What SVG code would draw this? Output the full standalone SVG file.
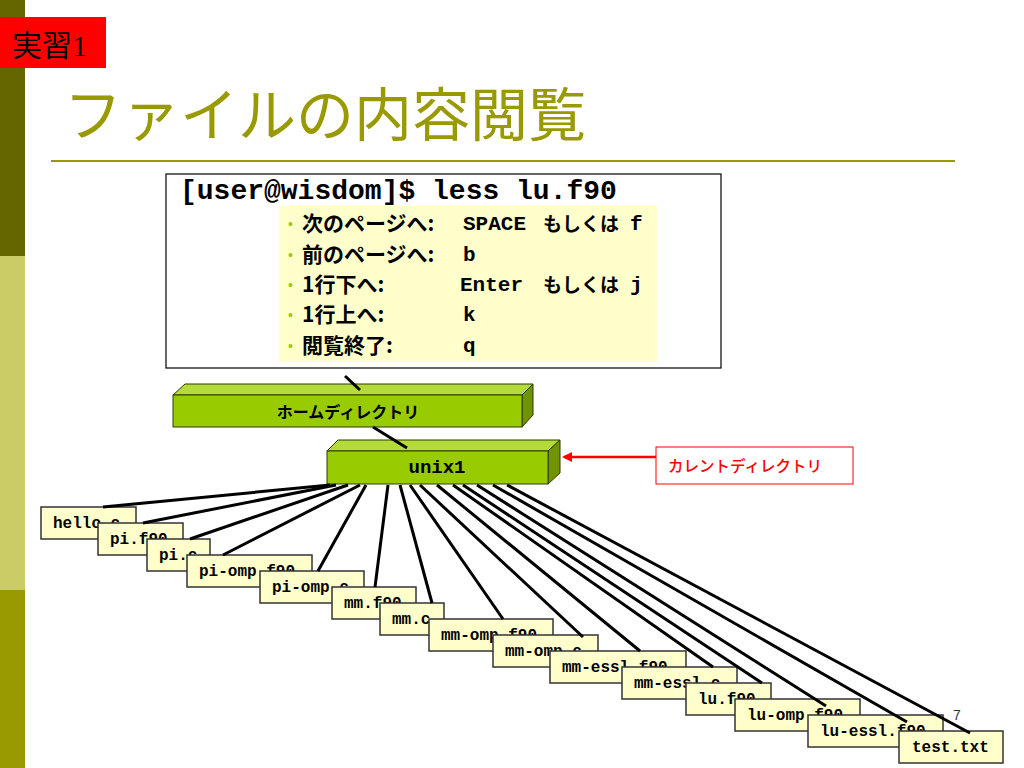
<svg xmlns="http://www.w3.org/2000/svg" width="1024" height="768" viewBox="0 0 1024 768">
<defs>
<style>
.file rect{fill:#FFFFCC;stroke:#333333;stroke-width:1.5}
.file text{font-family:"Liberation Mono","Courier New",monospace;font-weight:bold;font-size:16px;fill:#000}
.conn line{stroke:#000;stroke-width:3;stroke-linecap:butt}
.conn line.red{stroke:#FF0000;stroke-width:2.5}
.jp{font-family:"Noto Sans CJK JP","Noto Sans",sans-serif;font-weight:bold;fill:#000}
.mono{font-family:"Liberation Mono","Courier New",monospace;font-weight:bold;fill:#000}
.bul{font-family:"Liberation Sans",sans-serif;fill:#99CC00;font-size:14px}
.front{fill:#99CC00;stroke:#2F3A00;stroke-width:1}
.top{fill:#B5DB3A;stroke:#2F3A00;stroke-width:1}
.side{fill:#6F9400;stroke:#2F3A00;stroke-width:1}
</style>
<marker id="redArrow" markerWidth="10" markerHeight="10" refX="8" refY="5" orient="auto" markerUnits="userSpaceOnUse">
<path d="M0,0 L10,5 L0,10 Z" fill="#FF0000"/>
</marker>
</defs>
<rect x="0" y="0" width="1024" height="768" fill="#FFFFFF"/>
<g id="sidebar">
<rect x="0" y="0" width="25" height="256" fill="#666600"/>
<rect x="0" y="256" width="25" height="334" fill="#CCCC66"/>
<rect x="0" y="590" width="25" height="178" fill="#999900"/>
</g>
<g id="exercise-tag">
<rect x="0" y="17" width="106" height="51" fill="#FF0000"/>
<text x="12" y="56" font-family="Liberation Serif,'Noto Sans CJK JP',serif" font-size="30" fill="#000">実習1</text>
</g>
<g id="title">
<text x="64" y="136" font-family="'Noto Sans CJK JP',sans-serif" font-size="58" fill="#999900">ファイルの内容閲覧</text>
<line x1="51" y1="161" x2="955" y2="161" stroke="#999900" stroke-width="2"/>
</g>
<g id="command-box">
<rect x="166" y="174" width="555" height="194" fill="#FFFFFF" stroke="#000" stroke-width="1.2"/>
<text x="180" y="199" class="mono" font-size="28">[user@wisdom]$ less lu.f90</text>
<rect x="279" y="206" width="378" height="156" fill="#FFFFCC"/>
<text x="288" y="229" class="bul">•</text>
<text x="302" y="231" class="jp" font-size="21">次のページへ:</text>
<text x="463" y="230" class="mono" font-size="21">SPACE</text>
<text x="543" y="231" class="jp" font-size="19">もしくは</text>
<text x="630" y="230" class="mono" font-size="21">f</text>
<text x="288" y="260" class="bul">•</text>
<text x="302" y="262" class="jp" font-size="21">前のページへ:</text>
<text x="463" y="261" class="mono" font-size="21">b</text>
<text x="288" y="290" class="bul">•</text>
<text x="302" y="292" class="jp" font-size="21">1行下へ:</text>
<text x="460" y="291" class="mono" font-size="21">Enter</text>
<text x="543" y="292" class="jp" font-size="19">もしくは</text>
<text x="630" y="291" class="mono" font-size="21">j</text>
<text x="288" y="320" class="bul">•</text>
<text x="302" y="322" class="jp" font-size="21">1行上へ:</text>
<text x="463" y="321" class="mono" font-size="21">k</text>
<text x="288" y="351" class="bul">•</text>
<text x="302" y="353" class="jp" font-size="21">閲覧終了:</text>
<text x="463" y="352" class="mono" font-size="21">q</text>
</g>
<g id="home-dir">
<polygon class="top" points="173,395 185,384 533,384 522,395"/>
<polygon class="side" points="522,395 533,384 533,415 522,427"/>
<rect class="front" x="173" y="395" width="349" height="32"/>
<text x="348" y="418" class="jp" font-size="16" text-anchor="middle">ホームディレクトリ</text>
</g>
<g id="unix1">
<polygon class="top" points="327,451 338,440 560,440 548,451"/>
<polygon class="side" points="548,451 560,440 560,473 548,484"/>
<rect class="front" x="327" y="451" width="221" height="33"/>
<text x="437" y="473" class="mono" font-size="19" text-anchor="middle">unix1</text>
</g>
<g id="current-dir-label">
<rect x="656" y="447" width="197" height="37" fill="#FFFFFF" stroke="#FF0000" stroke-width="1"/>
<text x="668" y="472" font-family="'Noto Sans CJK JP',sans-serif" font-weight="500" font-size="15.5" fill="#FF0000">カレントディレクトリ</text>
</g>
<g id="files">
<g id="f-hello-c" class="file"><rect x="41" y="507" width="95" height="32"/><text x="53" y="528">hello.c</text></g>
<g id="f-pi-f90" class="file"><rect x="98" y="523" width="85" height="32"/><text x="110" y="544">pi.f90</text></g>
<g id="f-pi-c" class="file"><rect x="147" y="539" width="63" height="32"/><text x="159" y="560">pi.c</text></g>
<g id="f-pi-omp-f90" class="file"><rect x="187" y="555" width="125" height="32"/><text x="199" y="576">pi-omp.f90</text></g>
<g id="f-pi-omp-c" class="file"><rect x="260" y="571" width="104" height="32"/><text x="272" y="592">pi-omp.c</text></g>
<g id="f-mm-f90" class="file"><rect x="332" y="587" width="84" height="32"/><text x="344" y="608">mm.f90</text></g>
<g id="f-mm-c" class="file"><rect x="380" y="603" width="64" height="32"/><text x="392" y="624">mm.c</text></g>
<g id="f-mm-omp-f90" class="file"><rect x="429" y="619" width="124" height="32"/><text x="441" y="640">mm-omp.f90</text></g>
<g id="f-mm-omp-c" class="file"><rect x="493" y="635" width="105" height="32"/><text x="505" y="656">mm-omp.c</text></g>
<g id="f-mm-essl-f90" class="file"><rect x="550" y="651" width="136" height="32"/><text x="562" y="672">mm-essl.f90</text></g>
<g id="f-mm-essl-c" class="file"><rect x="622" y="667" width="115" height="32"/><text x="634" y="688">mm-essl.c</text></g>
<g id="f-lu-f90" class="file"><rect x="686" y="683" width="85" height="32"/><text x="698" y="704">lu.f90</text></g>
<g id="f-lu-omp-f90" class="file"><rect x="735" y="699" width="125" height="32"/><text x="747" y="720">lu-omp.f90</text></g>
<g id="f-lu-essl-f90" class="file"><rect x="808" y="715" width="135" height="32"/><text x="820" y="736">lu-essl.f90</text></g>
<g id="f-test-txt" class="file"><rect x="899" y="731" width="104" height="32"/><text x="912" y="752">test.txt</text></g>
</g>
<g id="connectors" class="conn">
<line x1="345" y1="376" x2="360" y2="390"/>
<line x1="373" y1="427" x2="407" y2="448"/>
<line x1="330" y1="485" x2="103" y2="507"/>
<line x1="336" y1="485" x2="143" y2="523"/>
<line x1="348" y1="485" x2="190" y2="539"/>
<line x1="360" y1="485" x2="223" y2="555"/>
<line x1="366" y1="485" x2="318" y2="571"/>
<line x1="388" y1="485" x2="375" y2="587"/>
<line x1="400" y1="485" x2="432" y2="603"/>
<line x1="410" y1="485" x2="503" y2="619"/>
<line x1="420" y1="485" x2="583" y2="637"/>
<line x1="437" y1="485" x2="640" y2="651"/>
<line x1="453" y1="485" x2="713" y2="667"/>
<line x1="463" y1="485" x2="762" y2="683"/>
<line x1="477" y1="485" x2="826" y2="706"/>
<line x1="493" y1="485" x2="907" y2="722"/>
<line x1="507" y1="485" x2="970" y2="733"/>
<line class="red" x1="656" y1="457" x2="564" y2="457" marker-end="url(#redArrow)"/>
</g>
<text x="953" y="720" font-family="'Liberation Sans',sans-serif" font-size="14" fill="#333333">7</text>
</svg>
